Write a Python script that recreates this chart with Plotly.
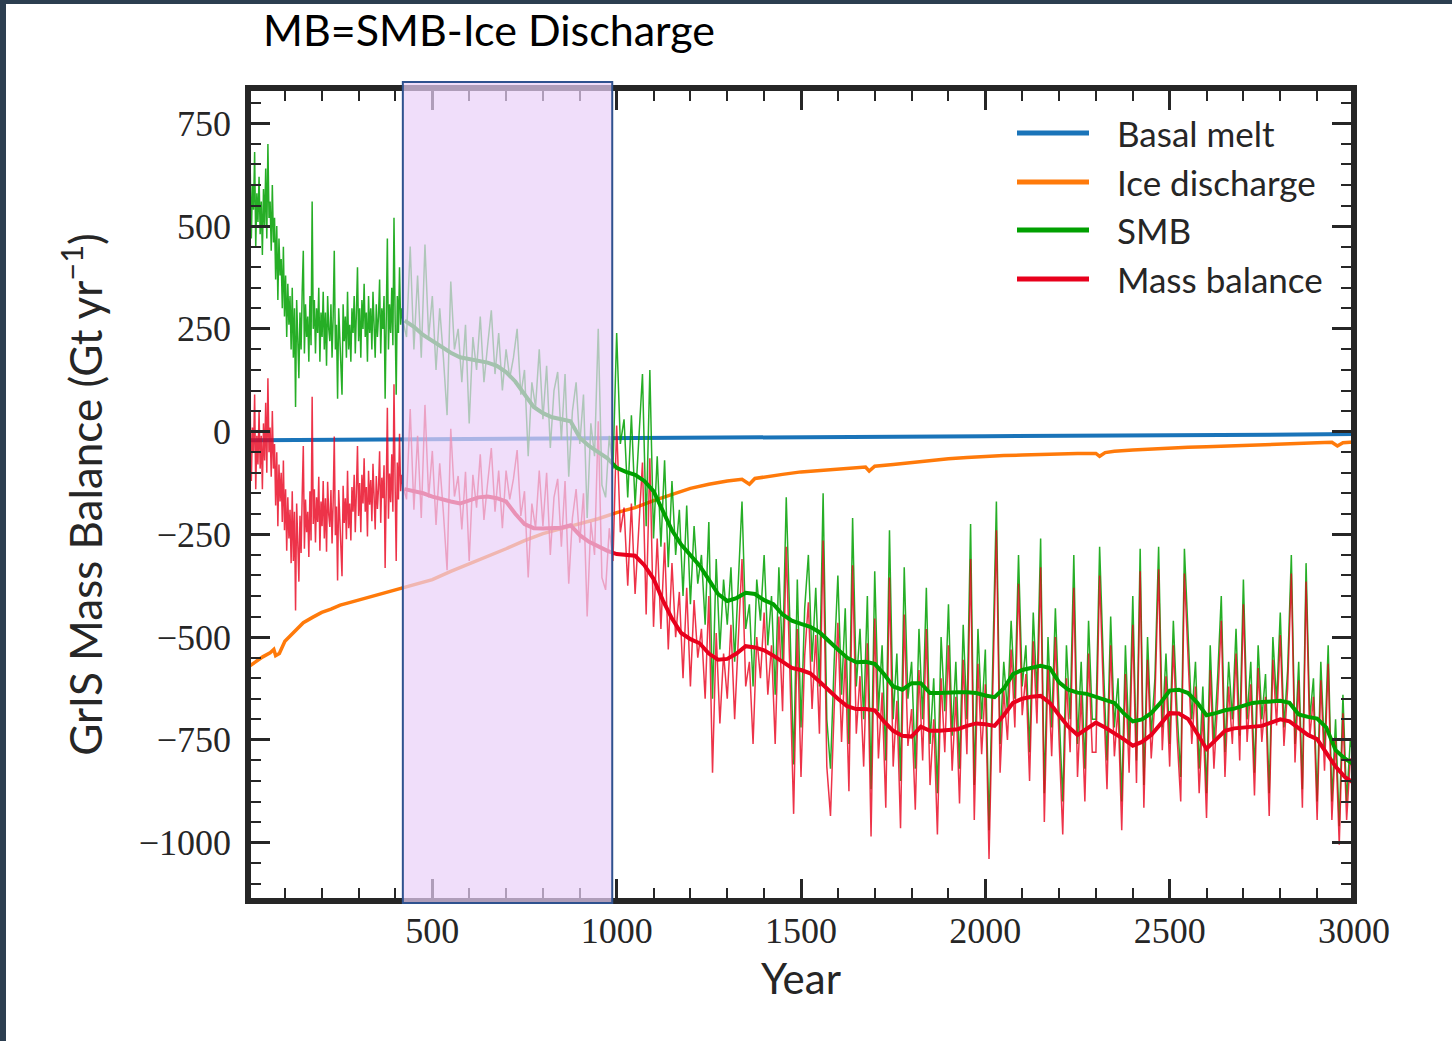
import plotly.graph_objects as go

# ---------------- data ----------------
# Basal melt (Gt/yr)
basal_years = [0, 500, 1000, 1500, 2000, 2500, 3000]
basal_melt = [-21, -18, -15, -13, -11, -9, -6]

# Ice discharge (Gt/yr)
discharge_years = [
    0, 20, 40, 60, 70, 75, 85, 100,
    125, 150, 175, 200, 225, 250, 275, 300,
    325, 350, 375, 400, 425, 450, 500, 550,
    600, 650, 700, 750, 800, 850, 900, 950,
    1000, 1050, 1100, 1150, 1200, 1250, 1300, 1340,
    1360, 1375, 1400, 1450, 1500, 1550, 1600, 1650,
    1675, 1685, 1700, 1750, 1800, 1850, 1900, 1950,
    2000, 2050, 2100, 2150, 2200, 2250, 2300, 2310,
    2325, 2350, 2400, 2450, 2500, 2550, 2600, 2650,
    2700, 2750, 2800, 2850, 2900, 2940, 2955, 2970,
    3000,
]
ice_discharge = [
    -573, -560, -548, -538, -530, -545, -540, -510,
    -488, -465, -452, -440, -432, -422, -416, -410,
    -404, -398, -392, -385, -379, -373, -360, -340,
    -322, -305, -285, -265, -248, -236, -224, -212,
    -197, -185, -168, -152, -138, -128, -120, -116,
    -128, -114, -110, -104, -98, -95, -92, -88,
    -86, -96, -84, -80, -75, -70, -66, -63,
    -60, -58, -57, -55, -54, -53, -53, -60,
    -51, -48, -45, -42, -40, -38, -37, -35,
    -33, -31, -30, -29, -27, -26, -35, -27,
    -25,
]

# Year-to-year series: 3-yr spacing to 420, then 10-yr spacing
years_early = list(range(0, 421, 3))
years_mid = list(range(430, 1001, 10))
years_late = list(range(1010, 3001, 10))

smb_early = [
    750, 520, 640, 470, 600, 540, 680, 450, 580, 510,
    620, 480, 560, 430, 590, 500, 640, 470, 700, 520,
    560, 440, 600, 460, 520, 370, 500, 320, 470, 380,
    420, 300, 450, 280, 380, 230, 360, 260, 330, 200,
    350, 180, 300, 60, 320, 220, 130, 290, 200, 340,
    440, 190, 310, 230, 280, 170, 330, 210, 560, 250,
    320, 190, 300, 240, 350, 170, 290, 230, 340, 200,
    290, 160, 330, 250, 220, 310, 180, 280, 440, 200,
    260, 80, 300, 230, 160, 90, 310, 220, 280, 180,
    340, 200, 260, 170, 300, 240, 330, 190, 290, 400,
    220, 300, 180, 320, 250, 360, 230, 290, 170, 330,
    240, 300, 200, 340, 260, 180, 310, 230, 280, 370,
    190, 300, 250, 330, 80, 280, 470, 200, 310, 240,
    350, 210, 520, 280, 90, 330, 240, 400, 260, 300,
    270,
]
smb_mid = [
    230, 450, 200, 380, 180, 455, 230, 330, 150, 300,
    180, 40, 365, 200, 250, 120, 260, 20, 230, 150,
    280, 120, 210, 295, 140, 240, 100, 200, 130, 180,
    250, 90, 150, -60, 120, 60, 200, 30, 160, -40,
    100, 145, -20, 140, -110, 50, 120, -30, 90, -210,
    20, -60, 250, -130, -160, -10, -90, 240,
]
smb_late = [
    -30, 30, -160, 40, -180, -20, 140, -230, 150, -260,
    -60, -280, -70, -330, -120, -300, -190, -400, -180, -420,
    -230, -370, -300, -470, -220, -650, -310, -530, -360, -470,
    -330, -560, -380, -170, -480, -420, -620, -360, -460, -300,
    -520, -400, -640, -330, -560, -160, -470, -810, -360, -720,
    -430, -300, -560, -380, -620, -150, -700, -820, -560, -350,
    -640, -430, -760, -210, -620, -480, -700, -400, -870, -340,
    -680, -520, -800, -240, -700, -540, -850, -330, -650, -560,
    -820, -480, -700, -380, -760, -600, -880, -500, -680, -420,
    -740, -560, -820, -470, -700, -225, -860, -480, -700, -530,
    -970, -600, -170, -760, -560, -680, -460, -650, -300, -620,
    -520, -780, -440, -640, -260, -880, -500, -720, -430, -680,
    -900, -520, -700, -300, -760, -560, -820, -460, -700, -700,
    -280, -560, -800, -450, -720, -600, -900, -520, -760, -400,
    -800, -285, -860, -500, -740, -600, -280, -720, -540, -760,
    -460, -680, -840, -285, -480, -700, -560, -820, -620, -880,
    -520, -760, -600, -400, -780, -560, -700, -480, -740, -360,
    -700, -560, -830, -520, -700, -590, -880, -500, -660, -440,
    -720, -580, -300, -760, -560, -870, -320, -700, -600, -900,
    -560, -780, -520, -900, -700, -960, -640, -900, -750, -800,
]

mb_early = [
    160, -70, 50, -120, 10, -50, 90, -140, -10, -80,
    50, -90, -10, -140, 20, -70, 70, -100, 130, -50,
    10, -110, 50, -90, -30, -180, -50, -230, -80, -170,
    -100, -220, -70, -240, -140, -290, -160, -260, -190, -320,
    -145, -315, -195, -435, -175, -275, -365, -205, -295, -155,
    -35, -285, -165, -245, -195, -305, -145, -265, 85, -225,
    -140, -270, -160, -220, -110, -290, -170, -230, -120, -260,
    -162, -292, -122, -202, -232, -142, -272, -172, -12, -252,
    -182, -362, -142, -212, -282, -352, -132, -222, -162, -262,
    -95, -235, -175, -265, -135, -195, -105, -245, -145, -35,
    -205, -125, -245, -105, -175, -65, -195, -135, -255, -95,
    -178, -118, -218, -78, -158, -238, -108, -188, -138, -48,
    -222, -112, -162, -82, -332, -132, 58, -212, -102, -172,
    -55, -195, 115, -125, -315, -75, -165, -5, -145, -105,
    -130,
]
mb_mid = [
    -165, 55, -190, -10, -210, 65, -160, -47, -227, -77,
    -197, -337, 7, -158, -108, -238, -98, -315, -105, -185,
    -55, -215, -125, -40, -195, -95, -235, -95, -165, -115,
    -45, -205, -145, -355, -175, -235, -95, -230, -100, -300,
    -160, -115, -280, -120, -370, -210, -140, -270, -150, -450,
    -220, -300, 25, -355, -385, -235, -315, 15,
]
mb_late = [
    -245, -185, -375, -175, -395, -235, -75, -445, -65, -475,
    -260, -480, -270, -530, -320, -500, -390, -600, -380, -620,
    -410, -550, -480, -650, -400, -830, -490, -710, -540, -650,
    -470, -700, -520, -310, -620, -560, -760, -500, -600, -440,
    -640, -520, -760, -450, -680, -280, -590, -930, -480, -840,
    -545, -415, -675, -495, -735, -265, -815, -935, -675, -465,
    -755, -545, -875, -325, -735, -595, -815, -515, -985, -455,
    -795, -635, -915, -355, -815, -655, -965, -445, -765, -675,
    -920, -580, -800, -480, -860, -700, -980, -600, -780, -520,
    -825, -645, -905, -555, -785, -310, -945, -565, -785, -615,
    -1040, -670, -240, -830, -630, -750, -530, -720, -370, -690,
    -590, -850, -510, -710, -330, -950, -570, -790, -500, -750,
    -980, -600, -780, -380, -840, -640, -900, -540, -780, -780,
    -350, -630, -870, -520, -790, -670, -970, -590, -830, -470,
    -855, -340, -915, -555, -795, -655, -335, -775, -595, -815,
    -520, -740, -900, -345, -540, -760, -620, -880, -680, -940,
    -580, -820, -660, -460, -840, -620, -760, -540, -800, -420,
    -755, -615, -885, -575, -755, -645, -935, -555, -715, -495,
    -765, -625, -345, -805, -605, -915, -365, -745, -645, -945,
    -605, -825, -565, -945, -745, -1005, -685, -945, -795, -845,
]

# Running means, every 25 years from 425
smooth_years = list(range(425, 3001, 25))
smb_smooth = [
    270, 255, 235, 220, 205, 192, 181, 177, 174, 168, 160, 145,
    122, 90, 60, 45, 35, 30, 25, -15, -35, -50, -65, -88,
    -98, -105, -120, -145, -190, -240, -275, -300, -326, -360, -395, -412,
    -405, -392, -395, -410, -420, -445, -460, -468, -475, -488, -510, -530,
    -550, -561, -560, -565, -590, -620, -628, -612, -612, -636, -636, -634,
    -634, -634, -636, -642, -646, -625, -590, -580, -575, -570, -575, -610,
    -628, -635, -638, -645, -652, -660, -685, -705, -700, -685, -660, -630,
    -628, -636, -660, -690, -685, -678, -674, -668, -660, -658, -656, -655,
    -660, -688, -694, -698, -720, -775, -795, -810,
]
mb_smooth = [
    -140, -145, -150, -158, -165, -170, -175, -168, -160, -158, -162, -170,
    -200, -225, -235, -236, -236, -234, -228, -252, -268, -280, -290, -298,
    -300, -302, -325, -358, -410, -455, -490, -505, -515, -540, -555, -553,
    -540, -522, -525, -532, -545, -560, -575, -580, -588, -608, -630, -650,
    -668, -675, -675, -678, -705, -728, -740, -742, -718, -728, -728, -726,
    -724, -716, -710, -712, -716, -690, -660, -650, -645, -643, -660, -690,
    -718, -738, -722, -708, -720, -733, -748, -764, -755, -738, -710, -685,
    -686, -699, -735, -772, -750, -728, -722, -720, -718, -716, -708, -700,
    -705, -722, -738, -748, -780, -815, -840, -855,
]

# Highlighted period (years)
highlight_start, highlight_end = 420, 988

# Axis ticks
x_major = [500, 1000, 1500, 2000, 2500, 3000]
x_minor = [v for v in range(100, 3000, 100) if v % 500]
y_major = [-1000, -750, -500, -250, 0, 250, 500, 750]
y_minor = [v for v in range(-1100, 801, 50) if v % 250]

legend_labels = ["Basal melt", "Ice discharge", "SMB", "Mass balance"]

# ---------------- styling ----------------
BLUE = "#1a74b9"
ORANGE = "#ff7a0a"
GREEN = "#00a000"
RED = "#e8001c"
INK = "#262626"
legend_colors = [BLUE, ORANGE, GREEN, RED]

W, H = 1452, 1041
ML, MR, MT, MBOT = 248, 98, 88, 140
PW, PH = W - ML - MR, H - MT - MBOT


def fx(px):
    return (px - ML) / PW


def fy(py):
    return 1 - (py - MT) / PH


noise_years = years_early + years_mid + years_late
smb_noise = smb_early + smb_mid + smb_late
mb_noise = mb_early + mb_mid + mb_late

fig = go.Figure()

fig.add_trace(go.Scatter(
    x=basal_years, y=basal_melt, mode="lines", name=legend_labels[0],
    line=dict(color=BLUE, width=4)))
fig.add_trace(go.Scatter(
    x=discharge_years, y=ice_discharge, mode="lines", name=legend_labels[1],
    line=dict(color=ORANGE, width=3.5)))
fig.add_trace(go.Scatter(
    x=noise_years, y=smb_noise, mode="lines", name=legend_labels[2],
    line=dict(color="rgba(0,160,0,0.85)", width=1.5)))
fig.add_trace(go.Scatter(
    x=noise_years, y=mb_noise, mode="lines", name=legend_labels[3],
    line=dict(color="rgba(232,0,28,0.8)", width=1.5)))
fig.add_trace(go.Scatter(
    x=smooth_years, y=smb_smooth, mode="lines", name=legend_labels[2],
    line=dict(color=GREEN, width=4)))
fig.add_trace(go.Scatter(
    x=smooth_years, y=mb_smooth, mode="lines", name=legend_labels[3],
    line=dict(color=RED, width=4)))

tick_font = dict(family="Liberation Serif, serif", size=36, color=INK)

fig.update_xaxes(
    range=[0, 3000], tickmode="array", tickvals=x_major,
    ticks="inside", ticklen=22, tickwidth=3, tickcolor=INK,
    mirror="ticks", showline=False, showgrid=False, zeroline=False,
    minor=dict(tickmode="array", tickvals=x_minor, ticks="inside",
               ticklen=13, tickwidth=2, tickcolor=INK),
    tickfont=tick_font, ticklabelstandoff=5,
    title=dict(text="Year", standoff=14,
               font=dict(family="Lato, sans-serif", size=42, color=INK)),
)
fig.update_yaxes(
    range=[-1142, 836], tickmode="array", tickvals=y_major,
    ticks="inside", ticklen=22, tickwidth=3, tickcolor=INK,
    mirror="ticks", showline=False, showgrid=False, zeroline=False,
    minor=dict(tickmode="array", tickvals=y_minor, ticks="inside",
               ticklen=13, tickwidth=2, tickcolor=INK),
    tickfont=tick_font, ticklabelstandoff=16,
    title=dict(text="GrIS Mass Balance (Gt yr<sup>\u22121</sup>)", standoff=22,
               font=dict(family="Lato, sans-serif", size=44, color=INK)),
)

shapes = [
    # slide border strips
    dict(type="rect", xref="paper", yref="paper", x0=fx(0), x1=fx(6),
         y0=fy(H), y1=fy(0), fillcolor="#2c3e50", line=dict(width=0), layer="above"),
    dict(type="rect", xref="paper", yref="paper", x0=fx(0), x1=fx(W),
         y0=fy(4), y1=fy(0), fillcolor="#2c3e50", line=dict(width=0), layer="above"),
    # axes frame
    dict(type="rect", xref="paper", yref="paper", x0=0, x1=1, y0=0, y1=1,
         line=dict(color=INK, width=6), fillcolor="rgba(0,0,0,0)", layer="above"),
    # highlighted period
    dict(type="rect", xref="x", yref="paper", x0=highlight_start, x1=highlight_end,
         y0=fy(903), y1=fy(82), fillcolor="rgba(234,208,248,0.7)",
         line=dict(color="#2f528f", width=2), layer="above"),
]

# legend: long line samples with labels
annotations = []
legend_rows = [133, 182, 230, 279]
for label, color, row in zip(legend_labels, legend_colors, legend_rows):
    shapes.append(dict(type="line", xref="paper", yref="paper",
                       x0=fx(1017), x1=fx(1089), y0=fy(row), y1=fy(row),
                       line=dict(color=color, width=5), layer="above"))
    annotations.append(dict(text=label, xref="paper", yref="paper",
                            x=fx(1115), y=fy(row), xanchor="left", yanchor="middle",
                            showarrow=False,
                            font=dict(family="Lato, sans-serif", size=35, color=INK)))

fig.update_layout(
    width=W, height=H, autosize=False,
    margin=dict(l=ML, r=MR, t=MT, b=MBOT, pad=0),
    paper_bgcolor="white", plot_bgcolor="white",
    shapes=shapes, annotations=annotations,
    showlegend=False,
    title=dict(text="MB=SMB-Ice Discharge", xref="container", yref="container",
               x=263 / W, xanchor="left", y=1 - 31 / H, yanchor="middle",
               font=dict(family="Lato, sans-serif", size=43, color="black")),
)

fig.write_html("out.html")
